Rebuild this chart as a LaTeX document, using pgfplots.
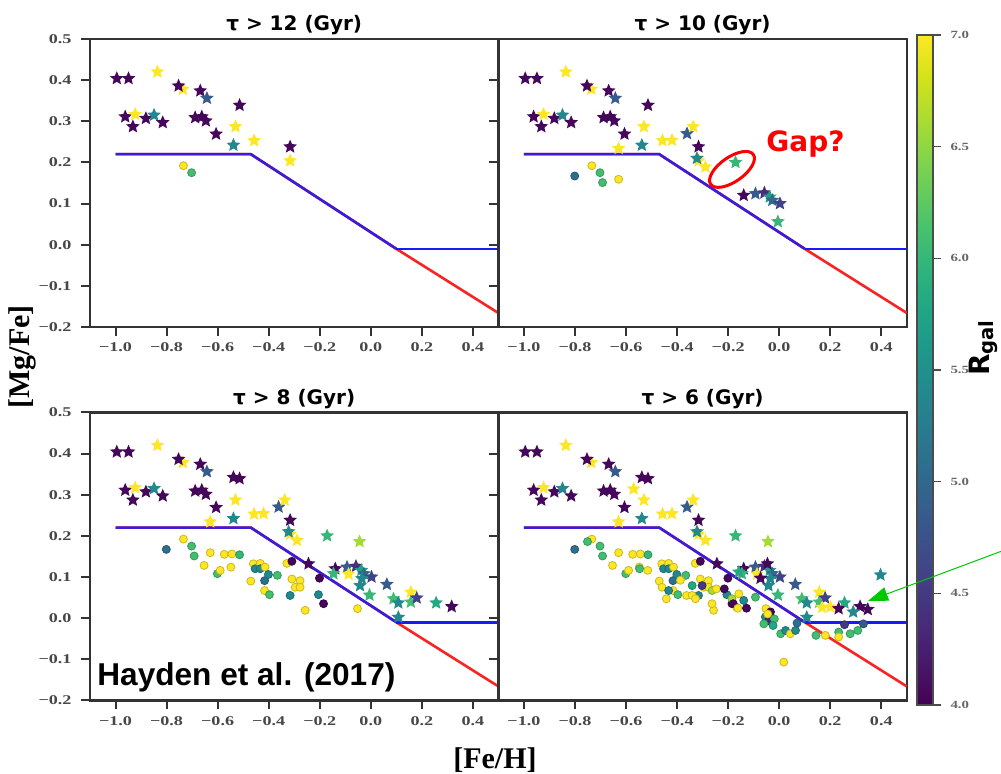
\documentclass[border=0pt]{standalone}
\usepackage{fontspec}
\setmainfont{Liberation Serif}
\newfontfamily\dejavu{DejaVu Sans}
\newfontfamily\arial{Liberation Sans}
\usepackage{pgfplots}
\pgfplotsset{compat=1.18}
\usepackage{pgfplotstable}
\usetikzlibrary{arrows.meta}

% filled five-point star, like matplotlib's '*'
\pgfdeclareplotmark{fstar}{%
  \pgfpathmoveto{\pgfpointpolar{90}{\pgfplotmarksize}}%
  \pgfpathlineto{\pgfpointpolar{126}{0.46\pgfplotmarksize}}%
  \pgfpathlineto{\pgfpointpolar{162}{\pgfplotmarksize}}%
  \pgfpathlineto{\pgfpointpolar{198}{0.46\pgfplotmarksize}}%
  \pgfpathlineto{\pgfpointpolar{234}{\pgfplotmarksize}}%
  \pgfpathlineto{\pgfpointpolar{270}{0.46\pgfplotmarksize}}%
  \pgfpathlineto{\pgfpointpolar{306}{\pgfplotmarksize}}%
  \pgfpathlineto{\pgfpointpolar{342}{0.46\pgfplotmarksize}}%
  \pgfpathlineto{\pgfpointpolar{18}{\pgfplotmarksize}}%
  \pgfpathlineto{\pgfpointpolar{54}{0.46\pgfplotmarksize}}%
  \pgfpathclose\pgfusepathqfill}

% tau > 12
\pgfplotstableread{
x y c
-0.995 0.404 4.05
-0.949 0.404 4.05
-0.836 0.420 7.0
-0.736 0.378 7.0
-0.753 0.386 4.05
-0.668 0.374 4.05
-0.642 0.356 4.85
-0.514 0.339 4.05
-0.962 0.311 4.05
-0.923 0.317 7.0
-0.932 0.287 4.05
-0.881 0.307 4.05
-0.849 0.315 5.4
-0.815 0.297 4.05
-0.688 0.309 4.05
-0.662 0.311 4.05
-0.646 0.301 4.05
-0.606 0.269 4.05
-0.530 0.287 7.0
-0.538 0.242 5.4
-0.457 0.253 7.0
-0.316 0.238 4.05
-0.316 0.204 7.0
}\Astar
\pgfplotstableread{
x y c
-0.734 0.192 7.0
-0.702 0.175 6.1
}\Acirc
% added for tau > 10
\pgfplotstableread{
x y c
-0.629 0.234 7.0
-0.420 0.254 7.0
-0.361 0.270 4.85
-0.337 0.287 7.0
-0.322 0.210 5.4
-0.289 0.189 7.0
-0.171 0.200 6.0
-0.139 0.120 4.05
-0.093 0.124 4.85
-0.058 0.126 4.4
-0.037 0.116 5.7
-0.027 0.108 5.0
0.003 0.100 4.6
-0.005 0.056 6.0
}\Bstar
\pgfplotstableread{
x y c
-0.801 0.167 5.1
-0.692 0.151 6.1
-0.629 0.159 7.0
}\Bcirc
% added for tau > 8
\pgfplotstableread{
x y c
-0.538 0.342 4.05
-0.044 0.186 6.6
-0.244 0.132 4.05
-0.146 0.108 6.0
-0.087 0.107 7.0
-0.042 0.079 5.4
-0.035 0.096 5.4
0.063 0.082 4.85
0.089 0.047 6.1
0.108 0.037 5.4
0.108 0.002 5.4
0.157 0.063 7.0
0.157 0.039 6.1
0.180 0.049 4.6
0.256 0.037 5.8
0.317 0.028 4.05
}\Cstar
\pgfplotstableread{
x y c
-0.653 0.128 7.0
-0.601 0.108 6.1
-0.590 0.116 7.0
-0.574 0.155 7.0
-0.544 0.156 7.0
-0.548 0.124 7.0
-0.514 0.154 6.0
-0.470 0.090 7.0
-0.460 0.132 7.0
-0.453 0.120 5.4
-0.433 0.133 7.0
-0.433 0.120 5.4
-0.414 0.124 7.0
-0.416 0.091 5.1
-0.401 0.106 5.4
-0.366 0.104 6.1
-0.416 0.067 7.0
-0.397 0.057 6.1
-0.316 0.055 5.4
-0.329 0.133 7.0
-0.309 0.138 4.05
-0.309 0.095 7.0
-0.277 0.091 7.0
-0.296 0.075 7.0
-0.277 0.075 7.0
-0.257 0.019 7.0
-0.201 0.097 4.05
-0.205 0.057 5.4
-0.185 0.035 4.05
-0.052 0.023 7.0
}\Ccirc
% added for tau > 6
\pgfplotstableread{
x y c
-0.570 0.314 7.0
-0.158 0.112 5.8
-0.073 0.097 4.05
-0.046 0.132 4.05
0.168 0.026 7.0
0.201 0.027 7.0
0.233 0.023 4.05
0.290 0.015 5.4
0.347 0.021 4.05
0.397 0.105 5.4
}\Dstar
\pgfplotstableread{
x y c
-0.751 0.186 6.1
-0.547 0.120 6.1
-0.515 0.116 7.0
-0.459 0.075 7.0
-0.433 0.067 5.4
-0.442 0.047 7.0
-0.387 0.092 7.0
-0.341 0.079 5.8
-0.363 0.055 7.0
-0.341 0.055 7.0
-0.328 0.047 7.0
-0.302 0.079 4.5
-0.263 0.067 6.6
-0.246 0.071 7.0
-0.263 0.035 7.0
-0.215 0.071 4.05
-0.166 0.026 7.0
-0.185 0.047 6.6
-0.158 0.059 7.0
-0.139 0.043 5.4
-0.180 0.035 4.05
-0.162 0.024 7.0
-0.128 0.024 4.05
-0.093 0.051 6.1
-0.034 0.015 4.05
-0.054 0.003 5.4
-0.041 -0.006 4.3
-0.045 0.010 7.0
-0.019 -0.002 6.1
-0.024 -0.018 5.8
-0.060 -0.014 6.1
0.006 -0.038 6.1
0.025 -0.030 5.4
0.044 -0.038 7.0
0.064 -0.030 5.4
0.070 -0.012 5.1
0.144 -0.042 6.1
0.181 -0.042 7.0
0.233 -0.034 6.1
0.233 -0.046 7.0
0.256 -0.016 4.5
0.278 -0.038 6.1
0.308 -0.030 6.1
0.330 -0.014 4.85
0.018 -0.107 7.0
}\Dcirc

\definecolor{lineblue}{RGB}{55,30,220}
\definecolor{lineblue2}{RGB}{25,25,250}
\definecolor{linered}{RGB}{250,35,35}
\definecolor{arrowgreen}{RGB}{0,200,0}

\pgfplotsset{
  panel/.style={
    scale only axis, width=204.2pt, height=144pt, anchor=north west,
    xmin=-1.1, xmax=0.5, ymin=-0.2, ymax=0.5,
    xtick={-1,-0.8,-0.6,-0.4,-0.2,0,0.2,0.4},
    xticklabels={−1.0,−0.8,−0.6,−0.4,−0.2,0.0,0.2,0.4},
    ytick={-0.2,-0.1,0,0.1,0.2,0.3,0.4,0.5},
    yticklabels={−0.2,−0.1,0.0,0.1,0.2,0.3,0.4,0.5},
    xtick pos=left, ytick pos=left, tick align=outside,
    major tick length=4.5pt,
    every tick/.style={line width=1pt, black!80},
    axis line style={line width=1.2pt, black!80},
    tick label style={font=\bfseries\fontsize{6.7}{7}\selectfont, black!72, xscale=1.35},
    title style={font=\dejavu\bfseries\fontsize{10}{12}\selectfont, anchor=base, at={(0.5,1)}, yshift=-2pt},
    colormap/viridis, point meta min=4, point meta max=7,
  },
  stars/.style={scatter, only marks, mark=fstar, mark size=3.6pt, scatter src=explicit},
  circs/.style={scatter, only marks, mark=*, mark size=2pt, scatter src=explicit},
}
\newcommand\modellines{%
  \addplot[linered, line width=1.3pt] coordinates {(-1,0.22) (-0.47,0.22) (0.1,-0.01) (0.5,-0.166)};
  \addplot[lineblue, line width=1.3pt] coordinates {(-1,0.22) (-0.47,0.22) (0.1,-0.01)};
  \addplot[lineblue2, line width=1.3pt] coordinates {(0.1,-0.01) (0.5,-0.01)};
}

\begin{document}
\begin{tikzpicture}
\path[use as bounding box] (0,0) rectangle (500.5pt,-387pt);

\begin{axis}[panel, at={(45pt,-19.5pt)}, title={τ > 12 (Gyr)}]
\modellines
\addplot[circs] table[x=x,y=y,meta=c] {\Acirc};
\addplot[stars] table[x=x,y=y,meta=c] {\Astar};
\end{axis}

\begin{axis}[panel, at={(249.2pt,-19.5pt)}, title={τ > 10 (Gyr)}, yticklabels={}]
\modellines
\addplot[circs] table[x=x,y=y,meta=c] {\Acirc};
\addplot[circs] table[x=x,y=y,meta=c] {\Bcirc};
\addplot[stars] table[x=x,y=y,meta=c] {\Astar};
\addplot[stars] table[x=x,y=y,meta=c] {\Bstar};
\end{axis}

\begin{axis}[panel, at={(45pt,-206.2pt)}, title={τ > 8 (Gyr)}]
\modellines
\addplot[circs] table[x=x,y=y,meta=c] {\Acirc};
\addplot[circs] table[x=x,y=y,meta=c] {\Bcirc};
\addplot[circs] table[x=x,y=y,meta=c] {\Ccirc};
\addplot[stars] table[x=x,y=y,meta=c] {\Astar};
\addplot[stars] table[x=x,y=y,meta=c] {\Bstar};
\addplot[stars] table[x=x,y=y,meta=c] {\Cstar};
\end{axis}

\begin{axis}[panel, at={(249.2pt,-206.2pt)}, title={τ > 6 (Gyr)}, yticklabels={}]
\modellines
\addplot[circs] table[x=x,y=y,meta=c] {\Acirc};
\addplot[circs] table[x=x,y=y,meta=c] {\Bcirc};
\addplot[circs] table[x=x,y=y,meta=c] {\Ccirc};
\addplot[circs] table[x=x,y=y,meta=c] {\Dcirc};
\addplot[stars] table[x=x,y=y,meta=c] {\Astar};
\addplot[stars] table[x=x,y=y,meta=c] {\Bstar};
\addplot[stars] table[x=x,y=y,meta=c] {\Cstar};
\addplot[stars] table[x=x,y=y,meta=c] {\Dstar};
\end{axis}

% colour bar, drawn as its own small axis
\begin{axis}[at={(458.5pt,-17.5pt)}, anchor=north west, scale only axis,
  width=8pt, height=335pt, xmin=0, xmax=1, ymin=4, ymax=7,
  colormap/viridis, point meta min=4, point meta max=7,
  xtick=\empty,
  ytick={4,4.5,5,5.5,6,6.5,7},
  yticklabels={4.0,4.5,5.0,5.5,6.0,6.5,7.0},
  ytick pos=right, yticklabel pos=right, tick align=outside, major tick length=4pt,
  every tick/.style={line width=0.8pt, black!70},
  axis line style={line width=0.6pt, black!70},
  tick label style={font=\bfseries\fontsize{5.5}{6}\selectfont, black!60, xscale=1.35},
  axis on top]
\addplot[surf, shader=interp, mesh/cols=2, point meta=y] coordinates {(0,4) (1,4) (0,7) (1,7)};
\end{axis}

% labels and annotations
\node[rotate=90, font=\bfseries\fontsize{15}{16}\selectfont] at (11pt,-178.5pt) {[Mg/Fe]};
\node[font=\bfseries\fontsize{15}{16}\selectfont] at (247.5pt,-380pt) {[Fe/H]};
\node[rotate=90, anchor=base west, inner sep=0pt, font=\dejavu\bfseries\fontsize{14}{16}\selectfont] at (494.5pt,-188.2pt) {R\textsubscript{gal}};
\node[anchor=base west, inner sep=0pt, font=\arial\bfseries\fontsize{15.8}{18}\selectfont] at (48.5pt,-342.5pt) {Hayden et al. (2017)};
\node[anchor=base west, inner sep=0pt, text=red, font=\dejavu\bfseries\fontsize{14}{16}\selectfont] at (383pt,-76pt) {Gap?};
\draw[red, line width=1.5pt, rotate around={35:(366pt,-84.7pt)}] (366pt,-84.7pt) ellipse (13pt and 6.1pt);
\draw[arrowgreen, line width=0.5pt, -{Triangle[length=10pt,width=7pt]}] (505pt,-274pt) -- (434pt,-300.5pt);
\end{tikzpicture}
\end{document}
